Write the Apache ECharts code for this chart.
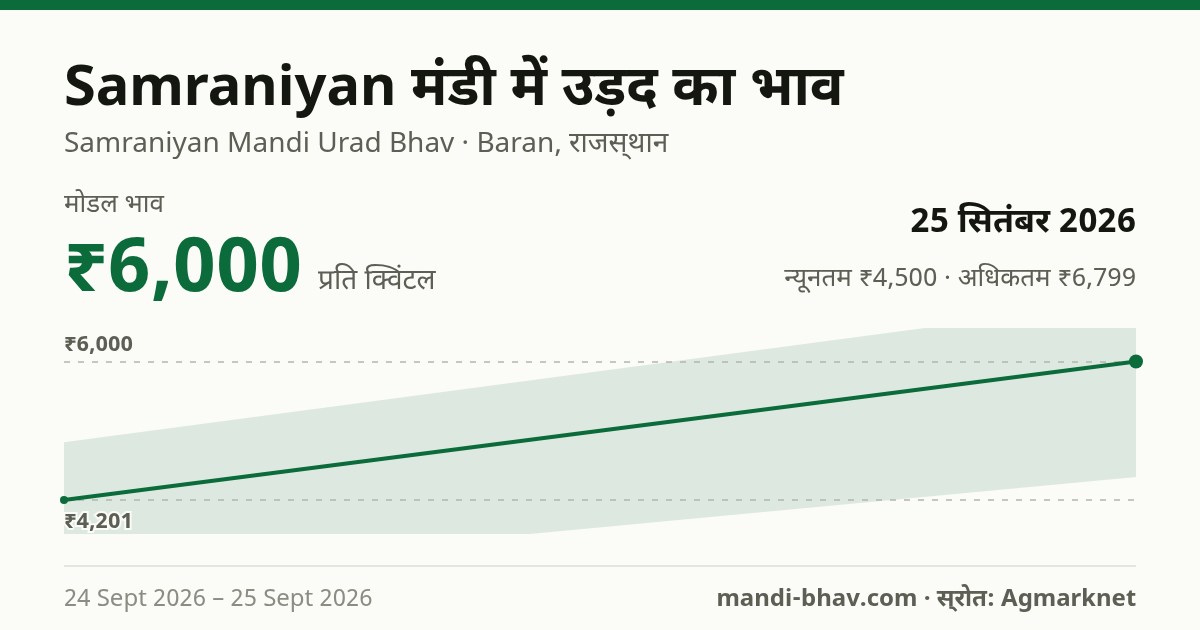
<!DOCTYPE html>
<html lang="hi"><head><meta charset="utf-8">
<style>html,body{margin:0;padding:0;background:#fbfbf7}#c{width:1200px;height:630px}</style>
<script src="https://cdn.jsdelivr.net/npm/echarts@6/dist/echarts.min.js"></script>
</head><body><div id="c"></div>
<script>
const dates = ['24 Sept 2026', '25 Sept 2026'];
const modalPrice = [4201, 6000];
const minPrice = [3190, 4500];
const maxPrice = [4950, 6799];
const yMin = 3759;
const yMax = 6435;
const refLabels = ['₹6,000', '₹4,201'];

const FONT = '"Noto Sans Devanagari","Noto Sans",sans-serif';
const BG = '#fbfbf7', GREEN = '#0b6b3a', INK = '#14170f', MUTED = '#5c5f54', FAINT = '#8a8d82';
function txt(x, base, text, size, weight, fill, align) {
  return { type: 'text', x, y: base - 0.18 * size, silent: true, style: { text, fontFamily: FONT, fontSize: size, fontWeight: weight, fill, align: align || 'left', verticalAlign: 'middle' } };
}
const chart = echarts.init(document.getElementById('c'), null, { renderer: 'canvas', width: 1200, height: 630 });
const refLine = (v, lbl, pos, d) => ({
  yAxis: v,
  label: { show: true, formatter: lbl, position: pos, distance: [0, d], color: MUTED, fontFamily: FONT, fontSize: 22, fontWeight: 700, textBorderColor: BG, textBorderWidth: 4 }
});
chart.setOption({
  animation: false,
  backgroundColor: BG,
  grid: { left: 64, width: 1072, top: 328, height: 206, containLabel: false },
  xAxis: { type: 'category', data: dates, boundaryGap: false, show: false },
  yAxis: { type: 'value', min: yMin, max: yMax, show: false },
  series: [
    { type: 'line', stack: 'band', data: minPrice, symbol: 'none', lineStyle: { width: 0 }, silent: true, z: 1 },
    { type: 'line', stack: 'band', data: maxPrice.map((v, i) => v - minPrice[i]), symbol: 'none', lineStyle: { width: 0 }, areaStyle: { color: GREEN, opacity: 0.12 }, silent: true, z: 1 },
    {
      type: 'line', data: modalPrice, z: 3, silent: true,
      lineStyle: { color: GREEN, width: 4 },
      showAllSymbol: true,
      symbol: 'circle',
      symbolSize: (v, p) => p.dataIndex === 0 ? 8 : 14,
      itemStyle: { color: GREEN },
      clip: false,
      markLine: {
        silent: true, symbol: 'none', z: 2,
        lineStyle: { color: '#b4b7aa', type: [6, 8], width: 1.5 },
        data: [refLine(modalPrice[1], refLabels[0], 'insideStartTop', 4), refLine(modalPrice[0], refLabels[1], 'insideStartBottom', 13)]
      }
    }
  ],
  graphic: { elements: [
    { type: 'rect', shape: { x: 0, y: 0, width: 1200, height: 10 }, style: { fill: GREEN }, silent: true },
    txt(64, 105, 'Samraniyan मंडी में उड़द का भाव', 56, 700, INK),
    txt(64, 152, 'Samraniyan Mandi Urad Bhav · Baran, राजस्\u200Cथान', 28, 400, MUTED),
    txt(64, 212, 'मोडल भाव', 26, 400, MUTED),
    txt(64, 290, '₹6,000', 76, 700, GREEN),
    txt(318, 289, 'प्रति क्विंटल', 28, 400, MUTED),
    txt(1136, 232, '25 सितंबर 2026', 34, 700, INK, 'right'),
    txt(1136, 286, 'न्यूनतम ₹4,500 · अधिकतम ₹6,799', 26, 400, MUTED, 'right'),
    { type: 'rect', shape: { x: 64, y: 565, width: 1072, height: 2 }, style: { fill: '#e5e5dd' }, silent: true },
    txt(64, 606, '24 Sept 2026 – 25 Sept 2026', 24, 400, FAINT),
    txt(1136, 606, 'mandi-bhav.com · स्\u200Cरोत: Agmarknet', 24, 700, MUTED, 'right')
  ] }
});
</script></body></html>
